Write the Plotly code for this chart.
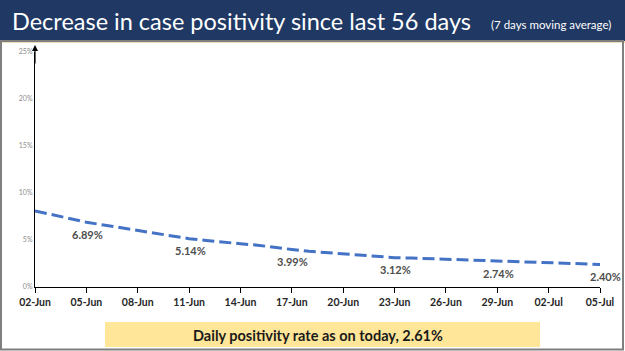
import plotly.graph_objects as go
import pandas as pd

dates = pd.date_range("2020-06-02", "2020-07-05", freq="D")
positivity = [8.1, 7.7, 7.3, 6.89, 6.6, 6.3, 6.0, 5.75, 5.45, 5.14, 4.95, 4.75,
              4.6, 4.45, 4.2, 3.99, 3.8, 3.65, 3.5, 3.35, 3.22, 3.12, 3.08, 3.02,
              2.97, 2.9, 2.82, 2.74, 2.7, 2.64, 2.6, 2.53, 2.45, 2.40]
label_dates = ["2020-06-05", "2020-06-11", "2020-06-17", "2020-06-23", "2020-06-29", "2020-07-05"]
label_values = [6.89, 5.14, 3.99, 3.12, 2.74, 2.40]
label_texts = ["6.89%", "5.14%", "3.99%", "3.12%", "2.74%", "2.40%"]
y_ticks = [0, 5, 10, 15, 20, 25]
title_main = "Decrease in case positivity since last 56 days"
title_sub = "(7 days moving average)"
footer = "Daily positivity rate as on today, 2.61%"

W, H = 625, 351
L, R, T, B = 35, 25, 52, 64
pw, ph = W - L - R, H - T - B
def px(x): return (x - L) / pw
def py(y): return (H - B - y) / ph

fig = go.Figure()
fig.add_trace(go.Scatter(x=dates, y=positivity, mode="lines",
                         line=dict(color="#4472C4", width=3, dash="12px,5px"),
                         hoverinfo="skip", showlegend=False))

shapes = [
    dict(type="rect", xref="paper", yref="paper", x0=px(0), x1=px(W), y0=py(41), y1=py(-2),
         fillcolor="#1F3864", line=dict(width=0), layer="below"),
    dict(type="line", xref="paper", yref="paper", x0=px(0), x1=px(W), y0=py(42), y1=py(42),
         line=dict(color="#E8DDB5", width=2)),
    dict(type="rect", xref="paper", yref="paper", x0=px(105), x1=px(540), y0=py(347), y1=py(322),
         fillcolor="#FFE699", line=dict(width=0), layer="below"),
    dict(type="rect", xref="paper", yref="paper", x0=px(1), x1=px(623), y0=py(349.5), y1=py(41),
         fillcolor="rgba(0,0,0,0)", line=dict(color="#7F7F7F", width=2)),
]

annotations = [
    dict(xref="paper", yref="paper", x=px(10), y=py(21), xanchor="left", yanchor="middle",
         text=title_main, showarrow=False,
         font=dict(family="Lato", size=23.5, color="white")),
    dict(xref="paper", yref="paper", x=px(613), y=py(24), xanchor="right", yanchor="middle",
         text=title_sub, showarrow=False,
         font=dict(family="Lato", size=11.5, color="white")),
    dict(xref="paper", yref="paper", x=px(318), y=py(335), xanchor="center", yanchor="middle",
         text="<b>" + footer + "</b>", showarrow=False,
         font=dict(family="Lato", size=14.5, color="#1a1a1a")),
    dict(xref="paper", yref="paper", x=0, y=py(45), ax=0, ay=20,
         text="", showarrow=True,
         arrowhead=2, arrowsize=1, arrowwidth=1.2, arrowcolor="black"),
]
for i, (d, v, t) in enumerate(zip(label_dates, label_values, label_texts)):
    last = i == len(label_dates) - 1
    annotations.append(dict(x=d, y=v, xref="x", yref="y", text="<b>" + t + "</b>",
                            showarrow=False, yanchor="middle", xanchor="center",
                            yshift=-12, xshift=5 if last else 1,
                            font=dict(family="Lato", size=11, color="#4d4d4d")))

fig.update_layout(
    width=W, height=H, margin=dict(l=L, r=R, t=T, b=B),
    paper_bgcolor="white", plot_bgcolor="white",
    shapes=shapes, annotations=annotations,
    xaxis=dict(type="date", range=["2020-06-02", "2020-07-05"], tick0="2020-06-02",
               dtick=3 * 86400000, tickformat="%d-%b", showgrid=False, zeroline=False,
               showline=True, linecolor="black", linewidth=1.2, ticks="outside",
               ticklen=5, tickcolor="black",
               tickfont=dict(family="Lato", size=10.5, color="#262626", weight="bold")),
    yaxis=dict(range=[0, 25], tickvals=y_ticks, ticktext=[f"{v}%" for v in y_ticks],
               showgrid=False, zeroline=False, showline=True, linecolor="black",
               linewidth=1.2, ticks="", tickfont=dict(family="Lato", size=7, color="#8c8c8c")),
)
fig.write_html("out.html")
